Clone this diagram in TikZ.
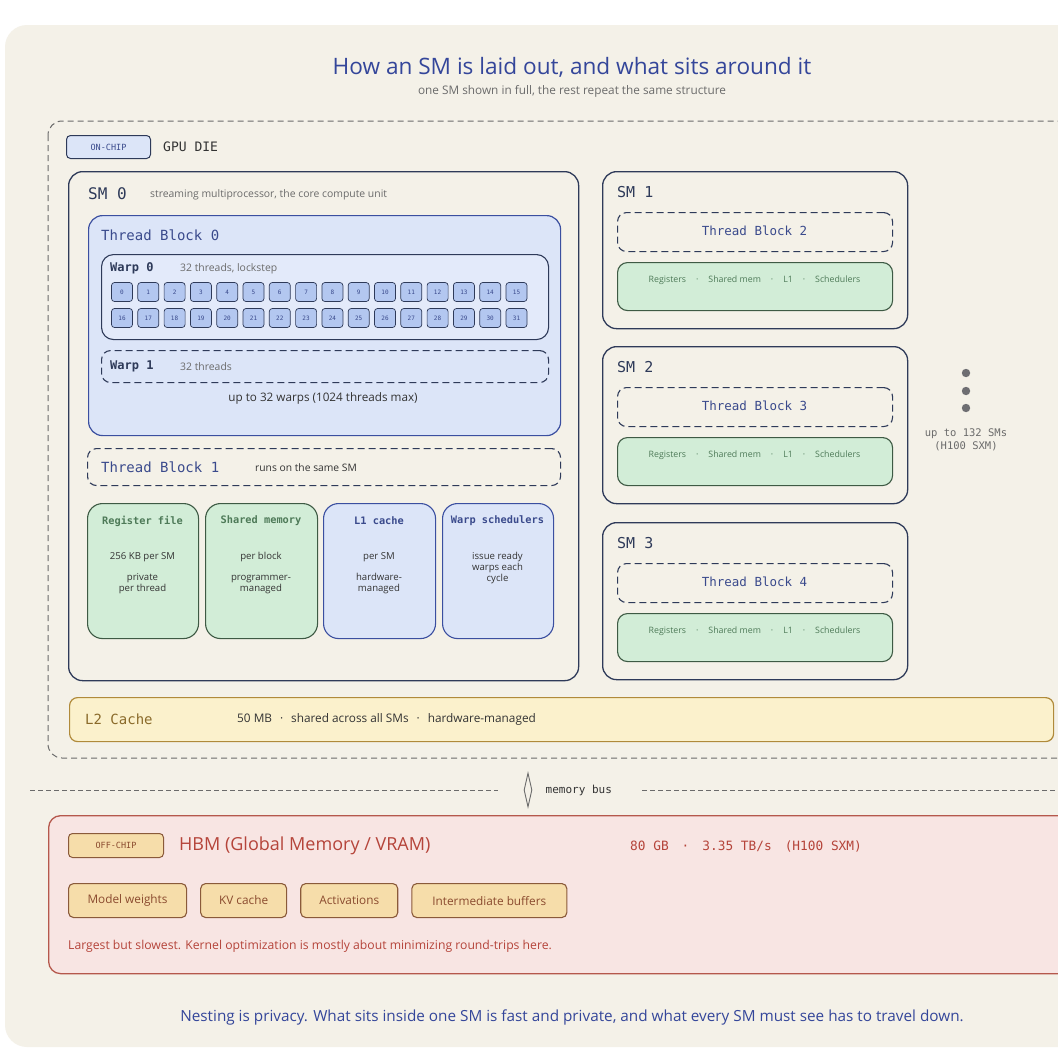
\documentclass[tikz,border=0pt]{standalone}
\usepackage{fontspec}
\setmainfont{Open Sans}
\setmonofont{DejaVu Sans Mono}
\usetikzlibrary{arrows.meta,positioning,shapes.geometric}

\definecolor{paper}{HTML}{F4F1E8}
\definecolor{smline}{HTML}{2E3A59}
\definecolor{blkline}{HTML}{3B4FA0}
\definecolor{blktext}{HTML}{3A4A8C}
\definecolor{titleblue}{HTML}{34469A}
\definecolor{bluefill}{HTML}{DCE5F8}
\definecolor{warpfill}{HTML}{E3EAFA}
\definecolor{cellfill}{HTML}{B3C7F0}
\definecolor{grnfill}{HTML}{D2EDD7}
\definecolor{grnline}{HTML}{3E5A44}
\definecolor{grntext}{HTML}{4E7A58}
\definecolor{greytext}{HTML}{6B6B6B}
\definecolor{inktext}{HTML}{333333}
\definecolor{l2fill}{HTML}{FBF1CC}
\definecolor{l2line}{HTML}{B08A3A}
\definecolor{l2text}{HTML}{8A6A2A}
\definecolor{hbmfill}{HTML}{F8E5E3}
\definecolor{hbmline}{HTML}{B5584C}
\definecolor{hbmtext}{HTML}{B5443A}
\definecolor{tagfill}{HTML}{F6DDAA}
\definecolor{tagline}{HTML}{8A5A3A}
\definecolor{tagtext}{HTML}{8A4A2E}
\definecolor{dotgrey}{HTML}{6E6E72}

\begin{document}
\begin{tikzpicture}[x=1pt, y=-1pt,
  box/.style={draw, anchor=north west, inner sep=0pt},
  smbox/.style={box, draw=smline, line width=1.3pt, rounded corners=14pt, fill=paper},
  blkbox/.style={box, draw=blkline, line width=1.2pt, rounded corners=14pt, fill=bluefill},
  warpbox/.style={box, draw=smline, line width=1.1pt, rounded corners=12pt, fill=warpfill},
  dashbox/.style={box, draw=smline, line width=1.1pt, dash pattern=on 7pt off 4pt, rounded corners=9pt},
  cell/.style={draw=smline, line width=0.7pt, rounded corners=3pt, fill=cellfill, minimum width=21pt, minimum height=19pt, inner sep=0pt, font=\fontsize{6}{6}\selectfont\ttfamily, text=blktext},
  grnbox/.style={box, draw=grnline, line width=1.1pt, rounded corners=15pt, fill=grnfill},
  bluebox/.style={box, draw=blkline, line width=1.1pt, rounded corners=15pt, fill=bluefill},
  resbar/.style={box, draw=grnline, line width=1.1pt, rounded corners=10pt, fill=grnfill},
  lbl/.style={anchor=west, inner sep=0pt},
  note/.style={lbl, font=\fontsize{10.4}{11}\selectfont, text=greytext},
  head/.style={lbl, font=\fontsize{14}{15}\selectfont\ttfamily, text=blktext},
  unithead/.style={inner sep=0pt, font=\fontsize{10.3}{11}\selectfont\ttfamily\bfseries},
  unitbody/.style={anchor=north, inner sep=0pt, align=center, font=\fontsize{9.6}{11}\selectfont, text=inktext},
  chiptag/.style={draw, anchor=north west, rounded corners=4pt, line width=1pt, inner sep=0pt, font=\fontsize{8.5}{9}\selectfont\ttfamily},
  item/.style={draw=tagline, fill=tagfill, line width=1.1pt, rounded corners=5pt, minimum height=34pt, inner sep=0pt, font=\fontsize{11.8}{12}\selectfont, text=tagtext},
  busline/.style={draw=greytext, line width=0.9pt, dash pattern=on 5pt off 3pt}
]
  \useasboundingbox (0,0) rectangle (1058,1058);
  \fill[white] (0,0) rectangle (1058,1058);
  \fill[paper, rounded corners=22pt] (5,25) rectangle (1090,1047);

  % title
  \node[font=\fontsize{22.6}{23}\selectfont, text=titleblue] (title) at (572,67) {How an SM is laid out, and what sits around it};
  \node[font=\fontsize{11.8}{12}\selectfont, text=greytext] (subtitle) at (572,91) {one SM shown in full, the rest repeat the same structure};

  % GPU die
  \draw[draw=greytext, line width=1pt, dash pattern=on 6pt off 4pt, rounded corners=14pt] (48,121) rectangle (1085,758);
  \node[chiptag, draw=smline, fill=bluefill, text=blktext, minimum width=84pt, minimum height=23pt] (onchip) at (66,135) {ON-CHIP};
  \node[lbl, right=12pt of onchip, font=\fontsize{13}{14}\selectfont\ttfamily, text=inktext] (gpudie) {GPU DIE};

  % SM 0
  \node[smbox, minimum width=510pt, minimum height=509pt] (sm0) at (68,171) {};
  \node[lbl, font=\fontsize{16}{17}\selectfont\ttfamily, text=smline] (sm0lbl) at (88,194) {SM 0};
  \node[note] at (150,195) {streaming multiprocessor, the core compute unit};

  \node[blkbox, minimum width=472pt, minimum height=220pt] (tb0) at (88,215) {};
  \node[head] (tb0lbl) at (101,235) {Thread Block 0};

  \node[warpbox, minimum width=447pt, minimum height=85pt] (warp0) at (101,254) {};
  \node[lbl, font=\fontsize{12}{13}\selectfont\ttfamily\bfseries, text=smline] (warp0lbl) at (110,268) {Warp 0};
  \node[note] at (180,269) {32 threads, lockstep};
  \foreach \i in {0,...,15} {
    \pgfmathtruncatemacro{\j}{\i+16}
    \node[cell] (t\i) at (122+26.3*\i,292) {\i};
    \node[cell] (t\j) at (122+26.3*\i,318) {\j};
  }

  \node[dashbox, minimum width=447pt, minimum height=32pt] (warp1) at (101,350) {};
  \node[lbl, font=\fontsize{12}{13}\selectfont\ttfamily\bfseries, text=smline] (warp1lbl) at (110,366) {Warp 1};
  \node[note] at (180,367) {32 threads};
  \node[font=\fontsize{11.7}{12}\selectfont, text=inktext] (maxwarps) at (323,398) {up to 32 warps (1024 threads max)};

  \node[dashbox, minimum width=473pt, minimum height=37pt] (tb1) at (87,448) {};
  \node[head] (tb1lbl) at (101,467) {Thread Block 1};
  \node[note, font=\fontsize{10.3}{11}\selectfont, text=inktext] at (255,468) {runs on the same SM};

  % per-SM units
  \node[grnbox, minimum width=111pt, minimum height=135pt] (regfile) at (87,503) {};
  \node[grnbox, minimum width=112pt, minimum height=135pt] (shmem) at (205,503) {};
  \node[bluebox, minimum width=112pt, minimum height=135pt] (lone) at (323,503) {};
  \node[bluebox, minimum width=111pt, minimum height=135pt] (wsched) at (442,503) {};
  \node[unithead, text=grntext] at (142.5,521) {Register file};
  \node[unithead, text=grntext] at (261,521) {Shared memory};
  \node[unithead, text=blktext] at (379,521) {L1 cache};
  \node[unithead, text=blktext] at (497.5,521) {Warp schedulers};
  \node[unitbody] at (142.5,552) {256 KB per SM\\[10pt]private\\per thread};
  \node[unitbody] at (261,552) {per block\\[10pt]programmer-\\managed};
  \node[unitbody] at (379,552) {per SM\\[10pt]hardware-\\managed};
  \node[unitbody] at (497.5,552) {issue ready\\warps each\\cycle};

  % SM 1 to SM 3
  \foreach \k/\top in {1/171, 2/346, 3/522} {
    \pgfmathtruncatemacro{\b}{\k+1}
    \node[smbox, minimum width=305pt, minimum height=157pt] (sm\k) at (602,\top) {};
    \node[lbl, font=\fontsize{15}{16}\selectfont\ttfamily, text=smline] at (617,\top+21) {SM \k};
    \node[dashbox, minimum width=275pt, minimum height=39pt] (tb\b) at (617,\top+41) {};
    \node[font=\fontsize{12.5}{13}\selectfont\ttfamily, text=blktext] at (754.5,\top+60) {Thread Block \b};
    \node[resbar, minimum width=275pt, minimum height=48pt] (res\k) at (617,\top+91) {};
    \node[font=\fontsize{8.8}{10}\selectfont, text=grntext] at (754.5,\top+109) {Registers\hspace{10pt}·\hspace{10pt}Shared mem\hspace{10pt}·\hspace{10pt}L1\hspace{10pt}·\hspace{10pt}Schedulers};
  }
  \foreach \yy in {373,391,408}
    \fill[dotgrey] (966,\yy) circle (4.2);
  \node[align=center, inner sep=0pt, font=\fontsize{10.5}{13}\selectfont\ttfamily, text=greytext] (moresms) at (966,440) {up to 132 SMs\\(H100 SXM)};

  % L2
  \node[box, draw=l2line, line width=1.2pt, rounded corners=8pt, fill=l2fill, minimum width=984pt, minimum height=44pt] (l2) at (69,697) {};
  \node[lbl, font=\fontsize{14}{15}\selectfont\ttfamily, text=l2text] (l2lbl) at (85,719) {L2 Cache};
  \node[lbl, font=\fontsize{11.8}{12}\selectfont, text=inktext] at (237,719) {50 MB\hspace{8pt}·\hspace{8pt}shared across all SMs\hspace{8pt}·\hspace{8pt}hardware-managed};

  % memory bus
  \node[diamond, draw=greytext, line width=0.9pt, aspect=0.24, minimum width=8pt, minimum height=34pt, inner sep=0pt] (bus) at (528,790) {};
  \node[lbl, right=13pt of bus, font=\fontsize{11}{12}\selectfont\ttfamily, text=inktext] (buslbl) {memory bus};
  \coordinate (busL) at (30,790);
  \coordinate (busR) at (1058,790);
  \draw[busline] (busL) -- ([xshift=-26pt]bus.west);
  \draw[busline] ([xshift=30pt]buslbl.east) -- (busR);

  % HBM
  \node[box, draw=hbmline, line width=1.3pt, rounded corners=12pt, fill=hbmfill, minimum width=1040pt, minimum height=158pt] (hbm) at (48,815) {};
  \node[chiptag, draw=tagline, fill=tagfill, text=tagtext, minimum width=95pt, minimum height=24pt] (offchip) at (68,833) {OFF-CHIP};
  \node[lbl, right=15pt of offchip, font=\fontsize{18}{19}\selectfont, text=hbmtext] (hbmlbl) {HBM (Global Memory / VRAM)};
  \node[lbl, font=\fontsize{12.8}{13}\selectfont\ttfamily, text=hbmtext] (hbmspec) at (630,846) {80 GB\hspace{13pt}·\hspace{13pt}3.35 TB/s\hspace{13pt}(H100 SXM)};
  \node[item, anchor=north west, minimum width=118pt] (weights) at (68,883) {Model weights};
  \node[item, right=13pt of weights, minimum width=86pt] (kvcache) {KV cache};
  \node[item, right=13pt of kvcache, minimum width=97pt] (acts) {Activations};
  \node[item, right=13pt of acts, minimum width=155pt] (buffers) {Intermediate buffers};
  \node[lbl, font=\fontsize{12.2}{13}\selectfont, text=hbmtext] (hbmnote) at (68,946) {Largest but slowest. Kernel optimization is mostly about minimizing round-trips here.};

  % footer
  \node[font=\fontsize{15.3}{16}\selectfont, text=titleblue] (footer) at (572,1017) {Nesting is privacy. What sits inside one SM is fast and private, and what every SM must see has to travel down.};
\end{tikzpicture}
\end{document}
